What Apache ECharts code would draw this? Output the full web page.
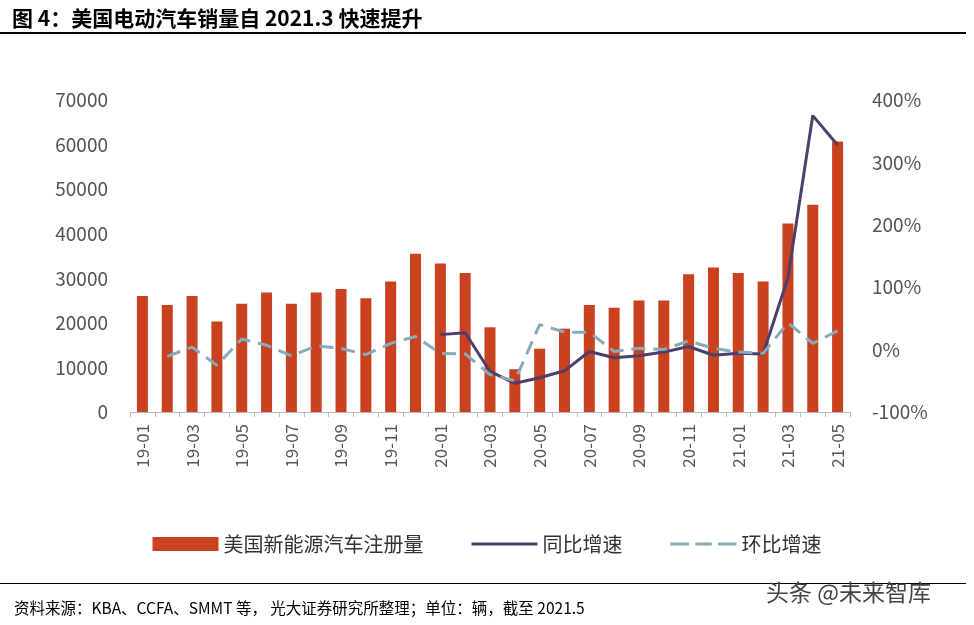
<!DOCTYPE html>
<html>
<head>
<meta charset="utf-8">
<script src="https://cdn.jsdelivr.net/npm/echarts@6/dist/echarts.min.js"></script>
<style>
body{margin:0;background:#fff;font-family:"Noto Sans CJK SC","Noto Sans",sans-serif;}
#title{position:absolute;left:12px;top:2px;font-size:21px;font-weight:bold;color:#000;}
#topline{position:absolute;left:0;top:32px;width:966px;border-top:2px solid #000;}
#botline{position:absolute;left:0;top:583px;width:966px;border-top:1.5px solid #000;}
#source{position:absolute;left:14px;top:596px;font-size:15.5px;color:#000;}
#mark{position:absolute;left:766px;top:574px;font-size:23px;color:#444;}
#chart{position:absolute;left:0;top:0;width:974px;height:625px;}
</style>
</head>
<body>
<div id="chart"></div>
<div id="title">图 4：美国电动汽车销量自 2021.3 快速提升</div>
<div id="topline"></div>
<div id="botline"></div>
<div id="source">资料来源：KBA、CCFA、SMMT 等， 光大证券研究所整理；单位：辆，截至 2021.5</div>
<div id="mark">头条 @未来智库</div>
<script>
// months 19-01 .. 21-05
const months = ['19-01','19-02','19-03','19-04','19-05','19-06','19-07','19-08','19-09','19-10','19-11','19-12',
  '20-01','20-02','20-03','20-04','20-05','20-06','20-07','20-08','20-09','20-10','20-11','20-12',
  '21-01','21-02','21-03','21-04','21-05'];
const sales = [26000,24000,26000,20300,24300,26800,24300,26800,27600,25500,29300,35500,
  33300,31200,19000,9600,14200,18700,24000,23400,25000,25000,30900,32400,
  31200,29300,42300,46500,60700];
const yoy = [null,null,null,null,null,null,null,null,null,null,null,null,
  24,27,-35,-54,-45,-34,-3,-13,-10,-4,5,-9,
  -6,-7,115,375,328];
const mom = [null,-11,4,-25,17,7,-10,6,2,-8,10,21,
  -6,-7,-40,-50,40,28,28,-3,2,0,14,2,
  -4,-6,43,10,30];

const chart = echarts.init(document.getElementById('chart'));
const font = {fontFamily:'"Noto Sans CJK SC","Noto Sans",sans-serif'};
chart.setOption({
  animation:false,
  grid:{left:130,right:124,top:100,bottom:213},
  legend:{
    bottom:66,left:'center',itemGap:48,itemWidth:66,itemHeight:14,
    textStyle:{fontSize:20,color:'#333',...font},
    data:[{name:'美国新能源汽车注册量',icon:'rect'},
      {name:'同比增速',icon:'path://M0,6 L64,6 L64,9 L0,9 Z'},
      {name:'环比增速',icon:'path://M0,6 L18,6 L18,9 L0,9 Z M24,6 L40,6 L40,9 L24,9 Z M46,6 L64,6 L64,9 L46,9 Z'}]
  },
  xAxis:{
    type:'category',data:months,
    axisLine:{lineStyle:{color:'#bbb'}},
    axisTick:{show:true,interval:0,lineStyle:{color:'#bbb'}},
    axisLabel:{interval:1,rotate:90,fontSize:17,color:'#555',margin:12,...font}
  },
  yAxis:[
    {type:'value',min:0,max:70000,interval:10000,
      splitLine:{show:false},axisLine:{show:false},axisTick:{show:false},
      axisLabel:{fontSize:19,color:'#555',margin:22,formatter:v=>String(v),...font}},
    {type:'value',min:-100,max:400,interval:100,
      splitLine:{show:false},axisLine:{show:false},axisTick:{show:false},
      axisLabel:{fontSize:19,color:'#555',formatter:'{value}%',margin:22,...font}}
  ],
  series:[
    {name:'美国新能源汽车注册量',type:'bar',data:sales,barWidth:11,
      itemStyle:{color:'#c9411f'}},
    {name:'同比增速',type:'line',yAxisIndex:1,data:yoy,symbol:'none',
      lineStyle:{color:'#4c3f6b',width:3},itemStyle:{color:'#4c3f6b'}},
    {name:'环比增速',type:'line',yAxisIndex:1,data:mom,symbol:'none',
      lineStyle:{color:'#86abbb',width:3,type:[14,8]},itemStyle:{color:'#86abbb'}}
  ]
});
</script>
</body>
</html>
